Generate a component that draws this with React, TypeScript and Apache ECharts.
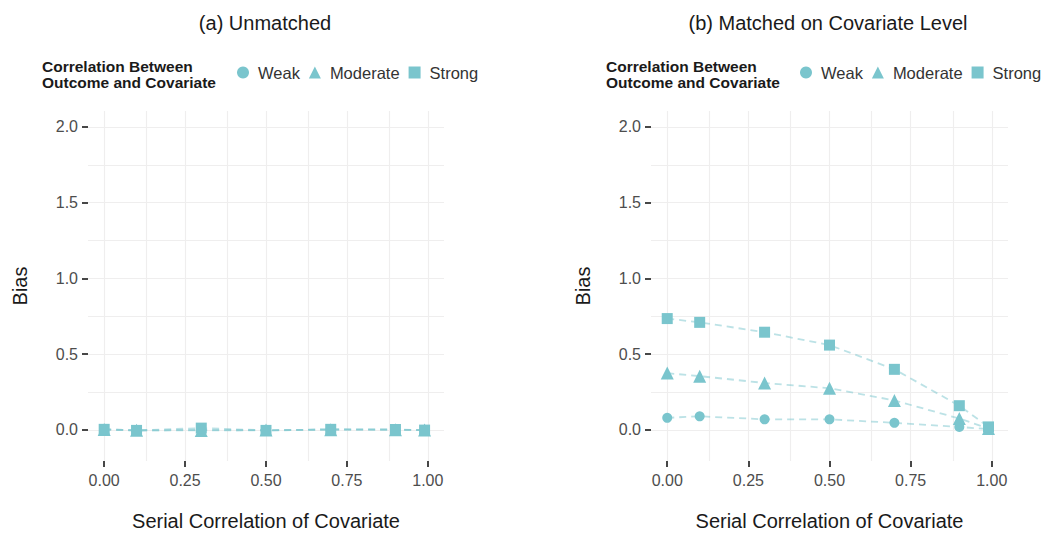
import React, { useEffect, useRef } from "react";
import * as echarts from "echarts";

const xValues = [0, 0.1, 0.3, 0.5, 0.7, 0.9, 0.99];
const groups = ["Weak", "Moderate", "Strong"];

// Panel (a) Unmatched
const unmatchedWeak = [0.004, -0.004, 0.0, -0.004, 0.003, 0.002, -0.002];
const unmatchedModerate = [0.003, -0.002, -0.003, -0.001, 0.002, 0.001, -0.001];
const unmatchedStrong = [0.004, -0.003, 0.012, -0.003, 0.004, 0.003, -0.001];

// Panel (b) Matched on Covariate Level
const matchedWeak = [0.08, 0.09, 0.07, 0.07, 0.047, 0.02, 0.005];
const matchedModerate = [0.375, 0.355, 0.31, 0.275, 0.195, 0.075, 0.01];
const matchedStrong = [0.735, 0.71, 0.645, 0.56, 0.4, 0.16, 0.02];

const xTicks = [0, 0.25, 0.5, 0.75, 1];
const xMinor = [0.125, 0.375, 0.625, 0.875];
const yTicks = [0, 0.5, 1, 1.5, 2];
const yMinor = [0.25, 0.75, 1.25, 1.75];

const POINT = "#7AC5CD";
const LINE = "rgba(122,197,205,0.5)";
const GRID = "#EFEEEE";
const FONT = "Liberation Sans, Arial, Helvetica, sans-serif";

const symbols: Record<string, [string, number]> = {
  Weak: ["circle", 10],
  Moderate: ["triangle", 13],
  Strong: ["rect", 11],
};

export default function App() {
  const ref = useRef<HTMLDivElement>(null);
  useEffect(() => {
    if (!ref.current) return;
    const chart = echarts.init(ref.current, null, { renderer: "svg" });

    const panelData = [
      [unmatchedWeak, unmatchedModerate, unmatchedStrong],
      [matchedWeak, matchedModerate, matchedStrong],
    ];

    const xAxisBase = (gridIndex: number) => ({
      type: "value",
      gridIndex,
      min: -0.05,
      max: 1.05,
      name: "Serial Correlation of Covariate",
      nameLocation: "middle",
      nameGap: 50,
      nameTextStyle: { fontSize: 20, color: "#1a1a1a", fontFamily: FONT },
      axisLine: { show: false, onZero: false },
      splitLine: { show: false },
      axisTick: {
        show: true,
        length: 6,
        lineStyle: { color: "#333", width: 1.8 },
        customValues: xTicks,
      },
      axisLabel: {
        fontSize: 16,
        color: "#4D4D4D",
        fontFamily: FONT,
        margin: 11,
        customValues: xTicks,
        formatter: (v: number) => v.toFixed(2),
      },
    });

    const yAxisBase = (gridIndex: number) => ({
      type: "value",
      gridIndex,
      min: -0.205,
      max: 2.105,
      name: "Bias",
      nameLocation: "middle",
      nameRotate: 90,
      nameGap: 58,
      nameTextStyle: { fontSize: 20, color: "#1a1a1a", fontFamily: FONT },
      axisLine: { show: false, onZero: false },
      splitLine: { show: false },
      axisTick: {
        show: true,
        length: 6,
        lineStyle: { color: "#333", width: 1.8 },
        customValues: yTicks,
      },
      axisLabel: {
        fontSize: 16,
        color: "#4D4D4D",
        fontFamily: FONT,
        margin: 10,
        customValues: yTicks,
        formatter: (v: number) => v.toFixed(1),
      },
    });

    const series: any[] = [];
    [0, 1].forEach((p) => {
      series.push({
        type: "scatter",
        name: "grid" + p,
        xAxisIndex: p,
        yAxisIndex: p,
        data: [],
        silent: true,
        z: 0,
        markLine: {
          silent: true,
          symbol: "none",
          z: 0,
          label: { show: false },
          lineStyle: { color: GRID, type: "solid", width: 1.2 },
          emphasis: { disabled: true },
          data: [
            ...xTicks.map((v) => ({ xAxis: v })),
            ...xMinor.map((v) => ({ xAxis: v })),
            ...yTicks.map((v) => ({ yAxis: v })),
            ...yMinor.map((v) => ({ yAxis: v })),
          ],
        },
      });
      groups.forEach((g, gi) => {
        series.push({
          type: "line",
          name: g,
          xAxisIndex: p,
          yAxisIndex: p,
          data: xValues.map((x, i) => [x, panelData[p][gi][i]]),
          symbol: symbols[g][0],
          symbolSize: symbols[g][1],
          showSymbol: true,
          itemStyle: { color: POINT },
          lineStyle: { color: LINE, type: [7, 5], width: 1.8 },
          z: 2 + gi,
          silent: true,
        });
      });
    });

    const legendBase = (left: number) => ({
      left,
      top: 64,
      orient: "horizontal",
      itemWidth: 12,
      itemHeight: 12,
      itemGap: 9,
      padding: 0,
      textStyle: { fontSize: 16.5, color: "#333", fontFamily: FONT, padding: [0, 0, 0, 4] },
      data: [
        { name: "Weak", icon: "circle" },
        { name: "Moderate", icon: "triangle" },
        { name: "Strong", icon: "rect" },
      ],
      selectedMode: false,
    });

    const legendTitleStyle = {
      fontSize: 15.5,
      fontWeight: "bold",
      color: "#1a1a1a",
      lineHeight: 16,
      fontFamily: FONT,
    };

    chart.setOption({
      animation: false,
      textStyle: { fontFamily: FONT },
      grid: [
        { left: 88, right: 608, top: 111, bottom: 70 },
        { left: 651, right: 44, top: 111, bottom: 70 },
      ],
      xAxis: [xAxisBase(0), xAxisBase(1)],
      yAxis: [yAxisBase(0), yAxisBase(1)],
      legend: [legendBase(237), legendBase(800)],
      title: [
        {
          text: "Correlation Between\nOutcome and Covariate",
          left: 42,
          top: 58,
          padding: 0,
          textStyle: legendTitleStyle,
        },
        {
          text: "Correlation Between\nOutcome and Covariate",
          left: 606,
          top: 58,
          padding: 0,
          textStyle: legendTitleStyle,
        },
      ],
      graphic: [
        {
          type: "text",
          x: 265,
          y: 23,
          style: { text: "(a) Unmatched", textAlign: "center", textVerticalAlign: "middle", fontSize: 20, fill: "#1a1a1a", fontFamily: FONT },
        },
        {
          type: "text",
          x: 828,
          y: 23,
          style: { text: "(b) Matched on Covariate Level", textAlign: "center", textVerticalAlign: "middle", fontSize: 20, fill: "#1a1a1a", fontFamily: FONT },
        },
      ],
      series,
    });
    return () => chart.dispose();
  }, []);
  return (
    <div
      ref={ref}
      style={{ position: "absolute", left: 0, top: 0, width: 1052, height: 536 }}
    />
  );
}
